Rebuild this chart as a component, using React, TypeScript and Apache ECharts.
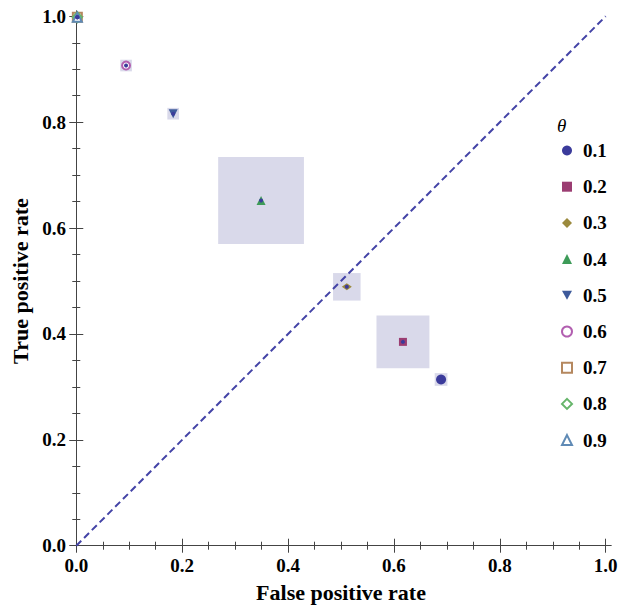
import React, { useEffect, useRef } from "react";
import * as echarts from "echarts";

const thetas = ["0.1", "0.2", "0.3", "0.4", "0.5", "0.6", "0.7", "0.8", "0.9"];
const fpr = [0.689, 0.617, 0.511, 0.349, 0.183, 0.094, 0.002, 0.002, 0.002];
const tpr = [0.314, 0.385, 0.489, 0.652, 0.816, 0.907, 0.998, 0.998, 0.998];
const fprErr = [0.012, 0.05, 0.026, 0.081, 0.011, 0.011, 0.0085, 0.006, 0.004];
const tprErr = [0.012, 0.05, 0.026, 0.082, 0.011, 0.011, 0.007, 0.006, 0.004];
const majorTicks = [0, 0.2, 0.4, 0.6, 0.8, 1.0];
const minorTicks = [0.05, 0.1, 0.15, 0.25, 0.3, 0.35, 0.45, 0.5, 0.55, 0.65, 0.7, 0.75, 0.85, 0.9, 0.95];
const diagonal = [[0, 0], [1, 1]];

const colors = ["#3b3b9b", "#9b3d72", "#9b8a3d", "#3d9b58", "#3d5a9b", "#b25fb0", "#b5885f", "#66b56a", "#5f8ab5"];
const symbols = [
  "circle",
  "rect",
  "diamond",
  "triangle",
  "path://M0,0L10,0L5,9Z",
  "emptyCircle",
  "emptyRect",
  "emptyDiamond",
  "emptyTriangle",
];
const sizes: any[] = [10, 8, [10, 7], 9, 9, 8, 9, [9, 10], 9];

const FONT = "'Liberation Serif', 'Times New Roman', serif";

export default function App() {
  const ref = useRef<HTMLDivElement>(null);
  useEffect(() => {
    const chart = echarts.init(ref.current!, null, { renderer: "svg" });
    const frame = { show: true, lineStyle: { color: "#444", width: 1 } };
    const mkAxis = (dim: "x" | "y", pos: string, major: boolean, labels: boolean, name?: string) => ({
      type: "value",
      position: pos,
      min: -0.01,
      max: 1.01,
      axisLine: major ? frame : { show: false },
      axisTick: {
        show: true,
        inside: true,
        length: major ? 7 : 4,
        customValues: major ? majorTicks : minorTicks,
        lineStyle: { color: "#444", width: 1 },
      },
      axisLabel: labels
        ? {
            show: true,
            customValues: majorTicks,
            formatter: (v: number) => v.toFixed(1),
            fontFamily: FONT,
            fontWeight: "bold",
            fontSize: 19,
            color: "#000",
            margin: 5,
          }
        : { show: false },
      splitLine: { show: false },
      ...(name
        ? {
            name,
            nameLocation: "middle",
            nameGap: dim === "x" ? 30 : 37,
            nameTextStyle: { fontFamily: FONT, fontWeight: "bold", fontSize: 22, color: "#000" },
          }
        : {}),
    });

    const boxData = fpr.map((x, i) => [x, tpr[i], fprErr[i], tprErr[i]]);
    const points = fpr.map((x, i) => [x, tpr[i]]);

    const series: any[] = [
      {
        type: "custom",
        name: "boxes",
        data: boxData,
        encode: { x: 0, y: 1 },
        z: 1,
        renderItem: (params: any, api: any) => {
          const x = api.value(0), y = api.value(1), dx = api.value(2), dy = api.value(3);
          const p0 = api.coord([x - dx, y + dy]);
          const p1 = api.coord([x + dx, y - dy]);
          return {
            type: "rect",
            shape: { x: p0[0], y: p0[1], width: p1[0] - p0[0], height: p1[1] - p0[1] },
            style: { fill: "#d9d9ea" },
          };
        },
      },
      {
        type: "line",
        name: "diag",
        data: diagonal,
        symbol: "none",
        z: 2,
        lineStyle: { color: "#4343a6", width: 2, type: [7, 4] },
      },
    ];
    thetas.forEach((t, i) => {
      series.push({
        type: "scatter",
        name: t,
        data: [points[i]],
        symbol: symbols[i],
        symbolSize: sizes[i],
        z: 3 + i,
        itemStyle: { color: colors[i], opacity: 1, borderWidth: i >= 5 ? 1.1 : 0 },
      });
    });
    series.push({
      type: "scatter",
      name: "dots",
      data: points,
      symbol: "circle",
      symbolSize: 4,
      z: 20,
      itemStyle: { color: "#3b3b9b", opacity: 1 },
    });

    chart.setOption({
      animation: false,
      backgroundColor: "#fff",
      grid: { left: 71, right: 17, top: 11, bottom: 55 },
      title: {
        text: "θ",
        left: 552,
        top: 111,
        textStyle: { fontFamily: FONT, fontStyle: "italic", fontWeight: "normal", fontSize: 19, color: "#000" },
      },
      legend: {
        data: thetas,
        orient: "vertical",
        left: 556,
        top: 136,
        itemWidth: 10,
        itemHeight: 10,
        itemGap: 17.2,
        textStyle: { fontFamily: FONT, fontWeight: "bold", fontSize: 19, color: "#000", padding: [0, 0, 0, 6] },
      },
      xAxis: [
        mkAxis("x", "bottom", true, true, "False positive rate"),
        mkAxis("x", "bottom", false, false),
        mkAxis("x", "top", true, false),
        mkAxis("x", "top", false, false),
      ],
      yAxis: [
        mkAxis("y", "left", true, true, "True positive rate"),
        mkAxis("y", "left", false, false),
        mkAxis("y", "right", true, false),
        mkAxis("y", "right", false, false),
      ],
      series,
    });
    return () => chart.dispose();
  }, []);
  return <div ref={ref} style={{ position: "absolute", left: 0, top: 0, width: 628, height: 608 }} />;
}
